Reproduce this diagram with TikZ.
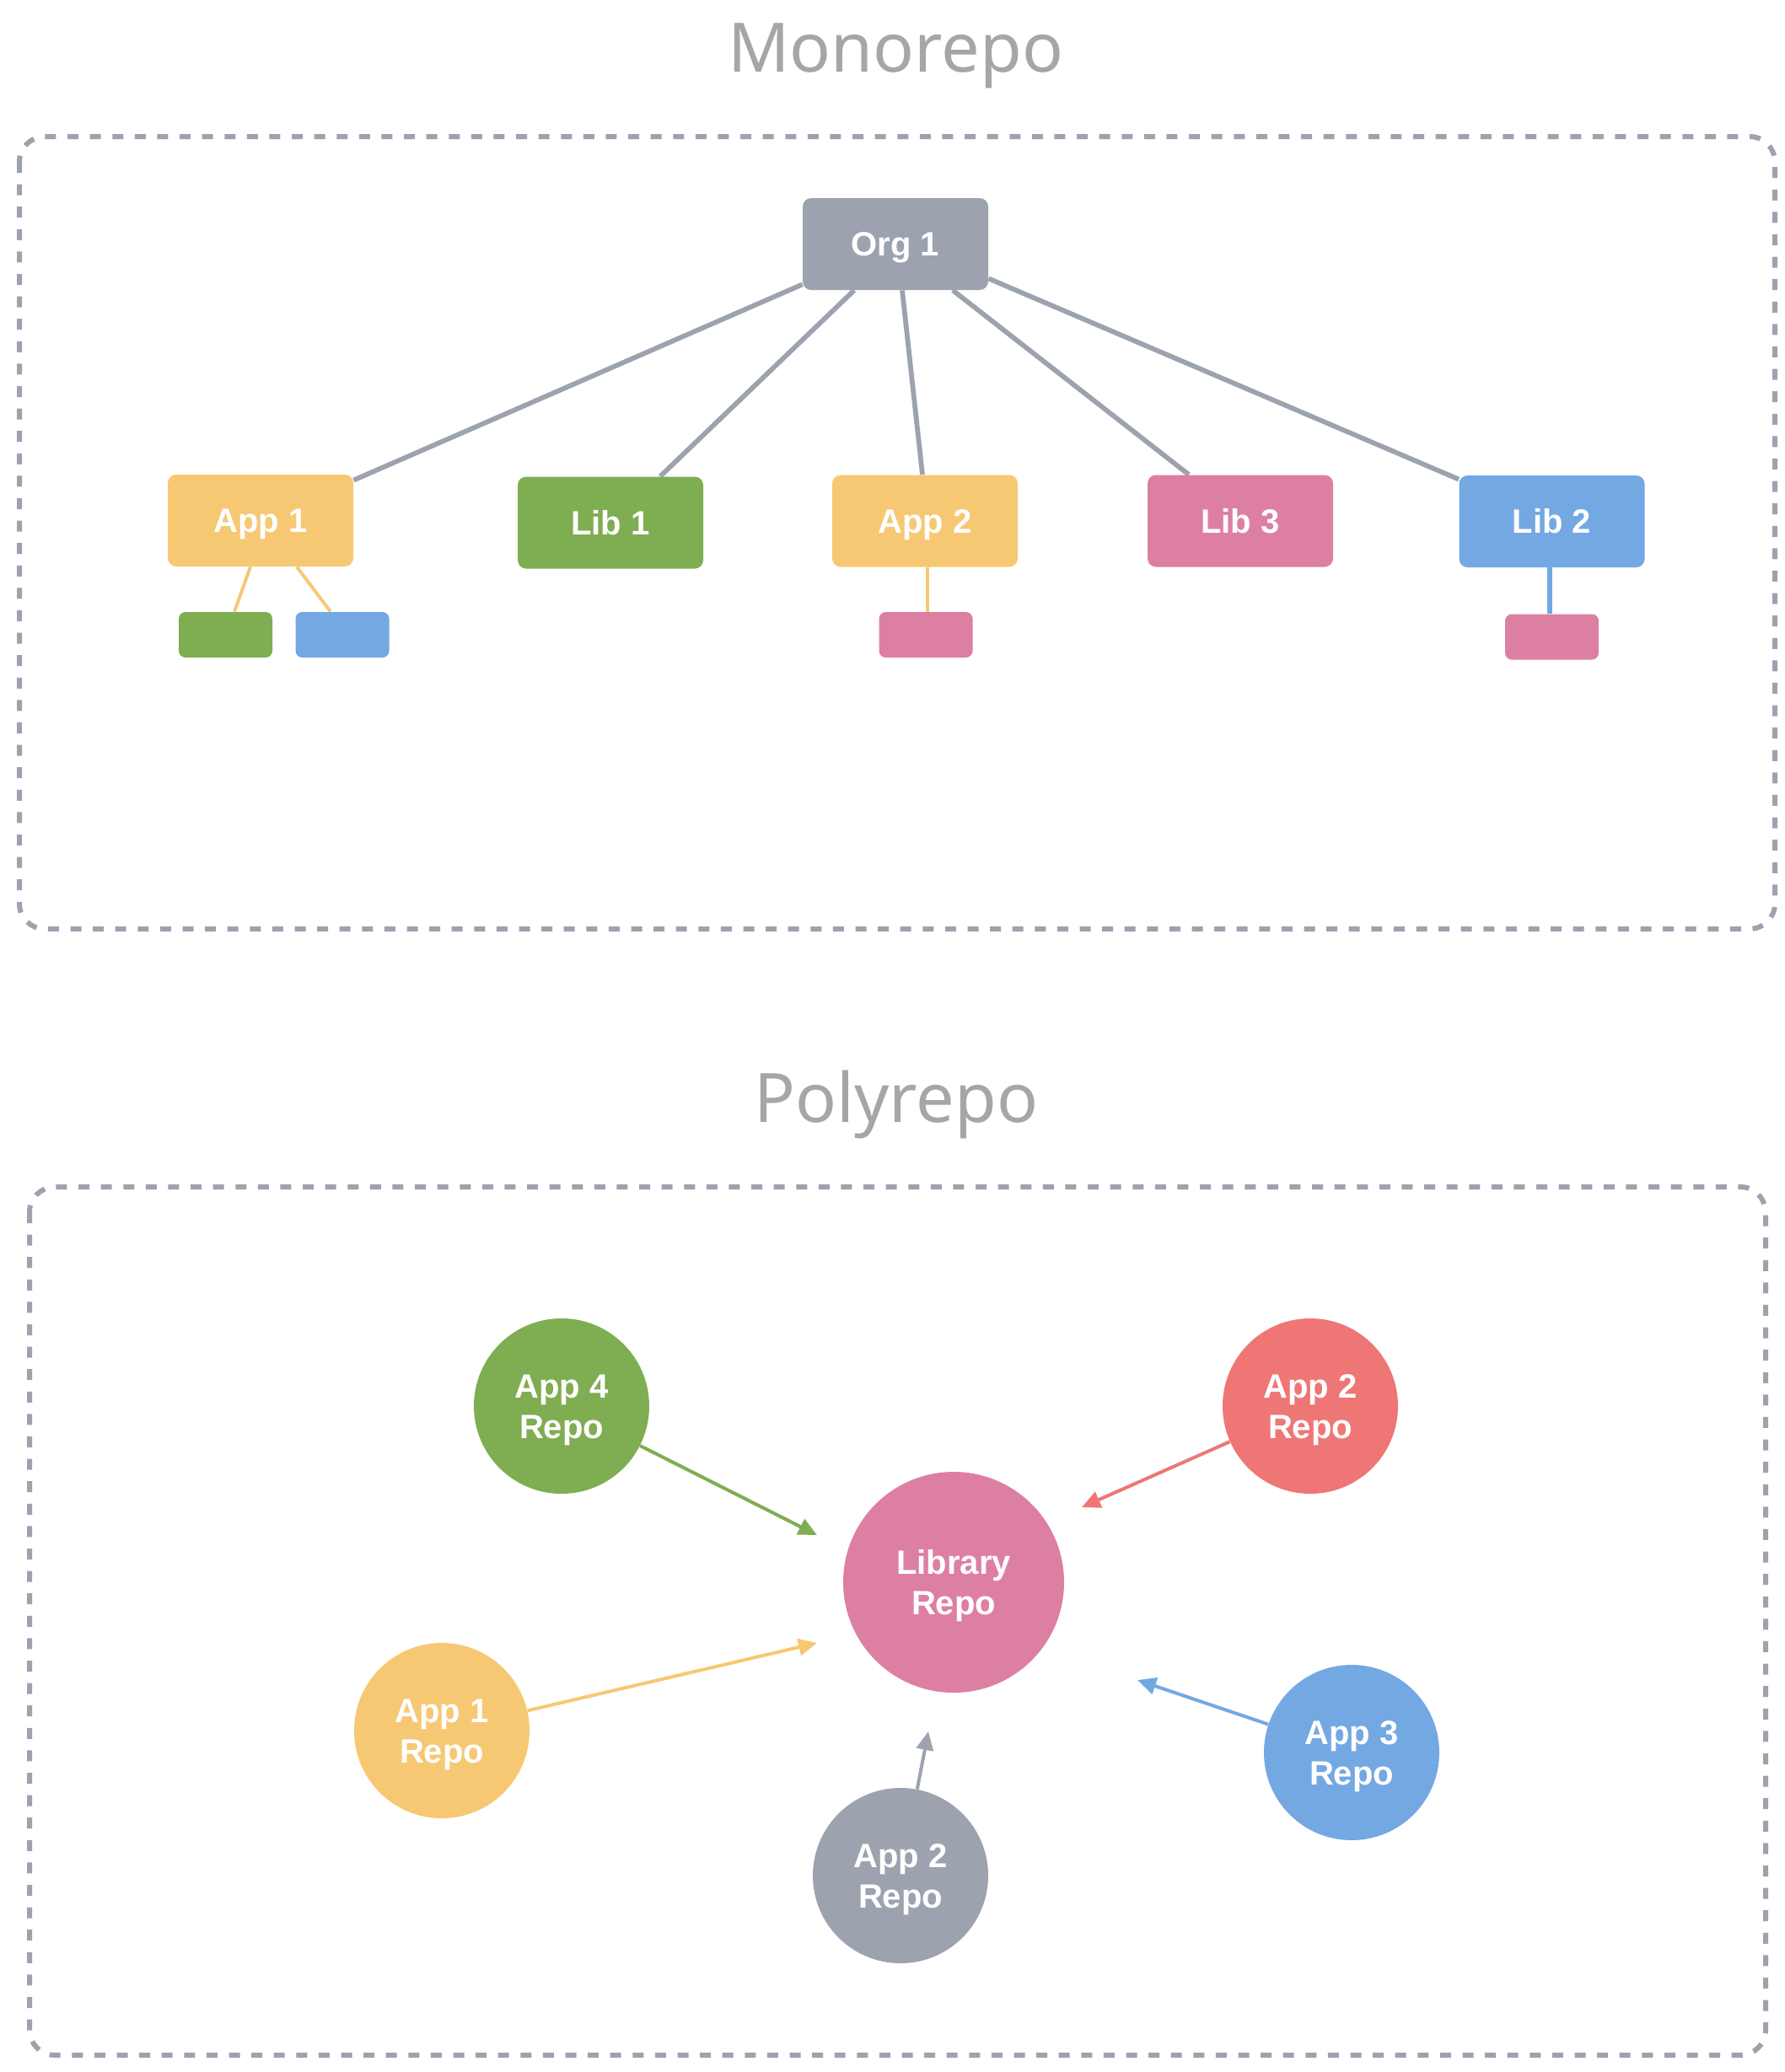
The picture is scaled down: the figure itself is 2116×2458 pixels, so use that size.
\documentclass[tikz,border=0pt]{standalone}
\usepackage{fontspec}
\setmainfont{Noto Sans}
\newfontfamily\lblfont{Liberation Sans}
\usetikzlibrary{arrows.meta,calc,backgrounds}
\definecolor{cgray}{HTML}{9CA3AF}
\definecolor{cyellow}{HTML}{F7C873}
\definecolor{cgreen}{HTML}{7FAD51}
\definecolor{cblue}{HTML}{73A8E2}
\definecolor{cpink}{HTML}{DD7FA3}
\definecolor{cred}{HTML}{EE7675}
\definecolor{ctitle}{HTML}{A6A6A6}
\tikzset{
  title/.style={font=\fontsize{40.5}{48}\selectfont, text=ctitle, anchor=base},
  frame/.style={draw=cgray, line width=3pt, dash pattern=on 6.5pt off 6.8pt, rounded corners=15pt},
  box/.style={rectangle, rounded corners=5pt, minimum width=110pt, minimum height=54.5pt,
    inner sep=0pt, text=white, text height=14.3pt, text depth=0pt,
    font=\lblfont\fontsize{20}{24}\selectfont\bfseries},
  smallbox/.style={rectangle, rounded corners=4pt, minimum width=55.5pt, minimum height=27pt, inner sep=0pt},
  repo/.style={circle, minimum size=104pt, inner sep=0pt, text=white, align=center,
    text height=38.3pt, text depth=0pt,
    font=\lblfont\fontsize{20}{24}\selectfont\bfseries},
  gline/.style={draw=cgray, line width=2.9pt},
  subline/.style={line width=2pt},
  arr/.style={line width=2pt, -{Triangle[length=11pt,width=10pt]}},
}
\begin{document}
\begin{tikzpicture}[x=0.5pt,y=-0.5pt]
\useasboundingbox (0,0) rectangle (2116,2458);
% ---------- Monorepo ----------
\node[title] (t1) at (1062,85) {Monorepo};
\draw[frame] (23,162) rectangle (2105,1102);

\node[box, fill=cgray]   (org)  at (1062,289.5) {Org 1};
\node[box, fill=cyellow] (app1) at (309,617.5) {App 1};
\node[box, fill=cgreen]  (lib1) at (724,620) {Lib 1};
\node[box, fill=cyellow] (app2) at (1097,618) {App 2};
\node[box, fill=cpink]   (lib3) at (1471,618) {Lib 3};
\node[box, fill=cblue]   (lib2) at (1840.5,618.5) {Lib 2};

\node[smallbox, fill=cgreen] (s1) at (267.5,753) {};
\node[smallbox, fill=cblue]  (s2) at (406,753) {};
\node[smallbox, fill=cpink]  (s3) at (1098,753) {};
\node[smallbox, fill=cpink]  (s4) at (1840.5,755.5) {};

\begin{scope}[on background layer]
\draw[gline] ([yshift=3.5pt]org.south west) -- ([yshift=-3.5pt]app1.north east);
\draw[gline] ([xshift=-24.5pt]org.south) -- ([xshift=29.5pt]lib1.north);
\draw[gline] ([xshift=4pt]org.south) -- ([xshift=-1.5pt]app2.north);
\draw[gline] ([xshift=34pt]org.south) -- ([xshift=-30.5pt]lib3.north);
\draw[gline] ([yshift=7pt]org.south east) -- ([yshift=-2.5pt]lib2.north west);
\draw[subline, cyellow] ([xshift=-6pt]app1.south) -- ([xshift=5.25pt]s1.north);
\draw[subline, cyellow] ([xshift=21.5pt]app1.south) -- ([xshift=-7pt]s2.north);
\draw[subline, cyellow] ([xshift=1.5pt]app2.south) -- ([xshift=1pt]s3.north);
\draw[line width=3pt, cblue] ([xshift=-1.5pt]lib2.south) -- ([xshift=-1.5pt]s4.north);
\end{scope}

% ---------- Polyrepo ----------
\node[title] (t2) at (1063,1331) {Polyrepo};
\draw[frame] (35,1408) rectangle (2094,2438);

\node[repo, fill=cpink, minimum size=131pt] (lib) at (1131,1877) {Library\\Repo};
\node[repo, fill=cgreen]  (app4) at (666,1668) {App 4\\Repo};
\node[repo, fill=cred]    (app2r) at (1554,1668) {App 2\\Repo};
\node[repo, fill=cyellow] (app1r) at (524,2053) {App 1\\Repo};
\node[repo, fill=cblue]   (app3r) at (1603,2079) {App 3\\Repo};
\node[repo, fill=cgray]   (app2g) at (1068,2225) {App 2\\Repo};

\coordinate (tg) at (969,1821);
\coordinate (tr) at (1283,1788);
\coordinate (ty) at (969,1949);
\coordinate (tb) at (1349,1993);
\coordinate (tgr) at (1101,2054);

\draw[arr, cgreen]  (app4) -- (tg);
\draw[arr, cred]    (app2r) -- (tr);
\draw[arr, cyellow] (app1r) -- (ty);
\draw[arr, cblue]   (app3r) -- (tb);
\draw[arr, cgray]   (app2g) -- (tgr);
\end{tikzpicture}
\end{document}
